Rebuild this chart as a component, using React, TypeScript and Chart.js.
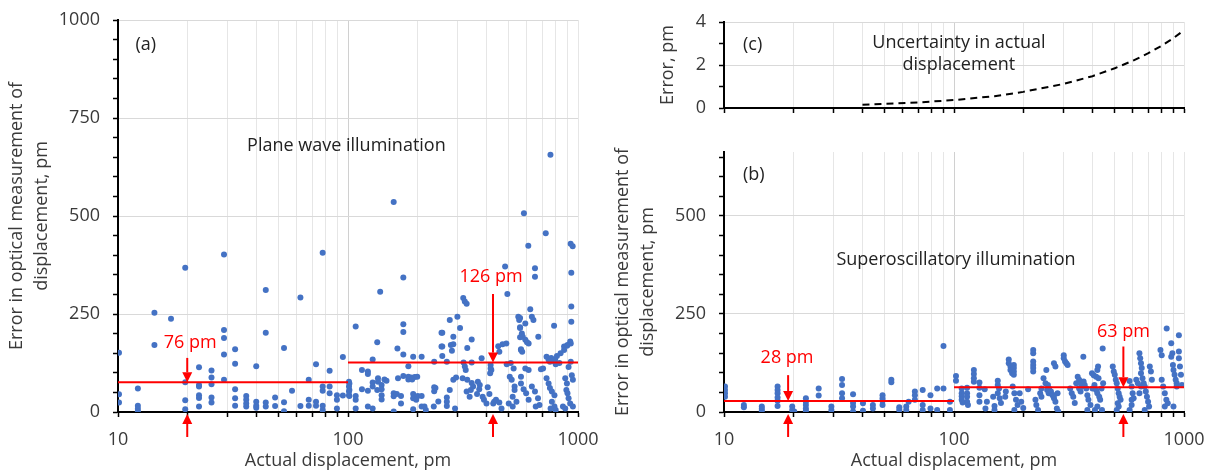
import React, { useEffect, useRef } from 'react';
import { Chart, registerables } from 'chart.js';

Chart.register(...registerables);

// ---------------- data ----------------
const xTickValues = [10, 20, 30, 40, 50, 60, 70, 80, 90, 100, 200, 300, 400, 500, 600, 700, 800, 900, 1000];
const xTickLabels = [10, 100, 1000];

const planeYTickValues = [0, 50, 100, 150, 200, 250, 300, 350, 400, 450, 500, 550, 600, 650, 700, 750, 800, 850, 900, 950, 1000];
const planeYTickLabels = [0, 250, 500, 750, 1000];
const superYTickValues = [0, 50, 100, 150, 200, 250, 300, 350, 400, 450, 500, 550, 600, 650];
const superYTickLabels = [0, 250, 500];
const uncertYTickValues = [0, 1, 2, 3, 4];
const uncertYTickLabels = [0, 2, 4];

// [actual displacement pm, error pm]
const planeWavePoints: [number, number][] = [
  [10.1,151],[10.1,45],[10.1,24],[12.2,60],[12.2,16],[12.2,8],[12.2,1],[14.4,253],[14.4,171],[17.0,238],[19.6,368],[19.6,76],[19.6,30],[19.6,7],
  [22.5,114],[22.5,69],[22.5,65],[22.5,43],[22.5,36],[22.5,14],[25.5,106],[25.5,88],[25.5,71],[25.5,37],[25.5,24],[28.9,402],[28.9,209],[28.9,189],
  [28.9,147],[28.9,82],[32.3,160],[32.3,123],[32.3,58],[32.3,35],[32.3,16],[36.1,41],[36.1,31],[36.1,22],[36.1,14],[39.9,117],[39.9,26],[39.9,16],
  [39.9,11],[43.9,311],[43.9,202],[43.9,24],[43.9,14],[48.2,37],[48.2,15],[52.7,163],[52.7,25],[52.7,2],[57.1,54],[62.1,292],[62.1,15],[67.5,82],
  [67.5,31],[67.5,16],[72.6,122],[72.6,26],[72.6,16],[77.6,406],[77.6,65],[77.6,54],[77.6,16],[77.6,5],[83.2,105],[83.2,65],[83.2,48],[89.5,43],
  [89.5,31],[89.5,9],[95,140],[95,42],[101.4,73],[101.4,56],[101.4,41],
  [108,218],[158,536],[582,507],[724,456],[759,656],[929,429],[948,423],[138,307],[174,343],[174,224],[174,204],[608,424],[650,367],[650,345],
  [482,371],[493,301],[317,291],[322,282],[328,276],[277,235],[299,243],[307,214],[255,202],[255,167],[287,192],[560,240],[560,214],[560,191],
  [620,262],[630,243],[640,235],[672,192],[787,220],[935,269],[935,230],[935,355],[870,167],[900,171],[930,175],[134,178],[128,134],[164,162],
  [174,147],[192,141],[209,141],[237,128],[257,143],[269,128],[257,202],[257,167],[287,173],[280,171],[283,156],[183,117],[115,107],[122,103],
  [122,97],[135,86],[135,77],[144,83],[147,80],[128,75],[128,65],[134,56],[140,69],[140,58],[140,43],[140,32],[165,86],[174,92],[183,90],[188,88],
  [195,89],[200,90],[183,83],[190,83],[115,58],[122,54],[101,77],[101,65],[101,52],[101,43],[108,41],[108,31],[108,9],[122,14],[128,9],[158,48],
  [158,40],[163,46],[170,41],[170,22],[158,1],[192,46],[192,35],[201,41],[209,41],[198,31],[192,7],[209,14],[215,14],[218,5],[237,63],[240,61],
  [237,53],[247,27],[236,14],[269,37],[269,26],[269,15],[277,56],[287,82],[295,88],[292,9],
  [550,243],[555,235],[590,226],[560,216],[570,200],[575,192],[590,184],[600,178],[610,175],[565,160],[925,180],[895,169],[870,158],[840,150],
  [810,143],[795,134],[780,130],[345,185],[330,163],[381,137],[345,126],[318,126],[470,173],[488,175],[450,168],[455,154],[417,120],[417,111],
  [420,107],[415,99],[565,158],[572,154],[730,141],[745,133],[755,128],[765,138],[325,107],[322,116],[490,122],[510,125],[525,111],[590,111],
  [610,107],[690,109],[705,111],[800,122],[830,125],[910,115],[930,128],[315,86],[330,82],[345,74],[350,65],[342,56],[328,52],[338,39],[367,77],
  [374,69],[372,58],[364,46],[385,39],[390,31],[400,22],[405,63],[412,46],[428,22],[432,26],[440,31],[455,24],[465,9],[505,90],[515,82],[530,65],
  [530,56],[520,39],[500,22],[520,14],[540,26],[565,90],[565,73],[580,58],[595,48],[610,31],[630,65],[650,52],[670,35],[680,18],[655,14],[730,86],
  [745,73],[755,61],[770,52],[790,43],[770,26],[790,14],[800,5],[760,9],[880,86],[895,73],[890,56],[900,48],[910,35],[925,22],[940,94],[950,82],
  [860,14],[880,9],[950,14],
];

const superOscPoints: [number, number][] = [
  [10.1,65],[10.1,56],[10.1,48],[10.1,39],[12.2,18],[12.2,12],[14.6,14],[14.6,8],[14.6,3],[17.1,65],[17.1,56],[17.1,48],[17.1,37],[17.1,29],[17.1,15],
  [19.8,14],[19.8,5],[20.2,1],[22.7,35],[22.7,26],[22.7,18],[22.7,9],[22.7,3],[25.8,60],[25.8,42],[29.3,14],[29.3,5],[32.6,84],[32.6,69],[32.6,48],
  [32.6,35],[36.4,45],[36.4,23],[36.4,14],[36.4,1],[40.2,22],[40.2,3],[44.4,18],[44.4,9],[48.9,43],[48.9,35],[48.9,29],[48.9,18],[53.4,82],[53.4,76],
  [57.8,12],[57.8,5],[63.5,26],[62,14],[62,5],[67.6,52],[67.6,43],[67.6,31],[73.1,56],[73.1,18],[73.1,5],[79,43],[79,9],[84.5,60],[84.5,5],[90,168],
  [90,60],[96,26],[96,5],
  [102,92],[102,80],[108,60],[108,48],[108,40],[108,31],[109,24],[114,62],[114,48],[114,39],[114,26],[115,18],[122,107],[122,97],[122,86],[122,77],
  [129,75],[129,62],[129,43],[129,26],[136,58],[137,9],[139,26],[148,39],[150,15],[155,80],[155,69],[157,60],[155,48],[158,35],[160,23],[150,5],
  [167,39],[168,52],[173,134],[173,124],[176,116],[176,107],[179,99],[182,120],[182,112],[182,103],[182,95],[180,65],[183,48],[186,31],[189,18],
  [183,5],[193,48],[196,26],[200,10],[210,58],[221,158],[221,150],[221,129],[221,120],[221,112],[221,103],[226,31],[228,18],[232,5],[237,48],
  [240,60],[240,39],[245,86],[250,73],[254,56],[258,48],[252,107],[256,69],[259,60],[264,52],[268,43],[272,35],[272,124],[276,116],[282,48],
  [300,145],[300,137],[304,129],[308,124],[312,120],[272,43],[276,26],[280,9],[284,1],[320,60],[325,48],[330,39],[335,23],[340,73],[350,60],
  [355,52],[360,65],[366,78],[370,69],[376,60],[365,141],[345,90],[350,82],[355,73],[380,43],[384,31],[392,18],[380,5],[398,99],[405,94],[415,90],
  [425,86],[420,107],[423,116],[443,162],[400,60],[408,69],[415,56],[420,48],[428,39],[432,31],[438,60],[445,73],[410,5],[420,14],[440,5],
  [490,116],[495,103],[500,95],[505,82],[510,73],[515,60],[520,48],[525,39],[530,31],[515,22],[520,14],[510,5],[580,79],[592,65],[598,48],[604,35],
  [592,31],[592,18],[580,5],[640,150],[645,137],[650,124],[655,112],[650,99],[660,86],[668,73],[675,65],[682,52],[690,39],[698,26],[705,14],[675,5],
  [710,116],[718,103],[725,82],[800,82],[812,65],[825,48],[838,31],[850,22],[825,14],[900,14],[841,213],[880,175],[890,150],[880,141],[895,120],
  [900,107],[910,95],[920,82],[930,73],[930,65],[950,196],[950,154],[950,137],[960,116],[970,95],[980,69],[790,158],[800,145],[650,65],[640,48],
  [620,82],[630,73],
];

const uncertX = [40, 50, 70, 100, 150, 200, 300, 400, 500, 600, 700, 800, 900, 1000];
const uncertY = [0.15, 0.19, 0.26, 0.37, 0.55, 0.75, 1.12, 1.48, 1.85, 2.2, 2.55, 2.9, 3.25, 3.62];

const meanBreaks = [10, 100, 1000];
const planeMeans = [76, 126];
const superMeans = [28, 63];

const planeArrowX = [20, 427];
const planeArrowTop = [138, 301];
const planeLabelX = [20.6, 419];
const planeLabelY = [176, 344];
const superArrowX = [19, 545];
const superArrowTop = [94, 167];
const superLabelX = [18.8, 545];
const superLabelY = [138, 204];

// ---------------- style ----------------
const FONT = '"Open Sans", Lato, sans-serif';
const FS = 18;
const TEXT = '#3A3A3A';
const DARK = '#222222';
const BLUE = '#4472C4';
const RED = '#FF0000';

type Note = { x: number; y: number; text: string | string[]; color: string; align?: CanvasTextAlign };
type Arrow = { x: number; from?: number; to?: number; below?: boolean };

function drawArrow(ctx: CanvasRenderingContext2D, x: number, yTail: number, yTip: number) {
  const dir = yTip > yTail ? 1 : -1;
  const head = 10;
  const half = 5;
  ctx.strokeStyle = RED;
  ctx.fillStyle = RED;
  ctx.lineWidth = 2;
  ctx.beginPath();
  ctx.moveTo(x, yTail);
  ctx.lineTo(x, yTip - dir * head);
  ctx.stroke();
  ctx.beginPath();
  ctx.moveTo(x - half, yTip - dir * head);
  ctx.lineTo(x + half, yTip - dir * head);
  ctx.lineTo(x, yTip);
  ctx.closePath();
  ctx.fill();
}

function makeNotes(notes: Note[], arrows: Arrow[]) {
  return {
    id: 'notes',
    afterDatasetsDraw(chart: any) {
      const { ctx, chartArea } = chart;
      const xs = chart.scales.x;
      const ys = chart.scales.y;
      ctx.save();
      for (const n of notes) {
        ctx.font = `${FS}px ${FONT}`;
        ctx.fillStyle = n.color;
        ctx.textAlign = n.align || 'center';
        ctx.textBaseline = 'middle';
        const px = xs.getPixelForValue(n.x);
        const py = ys.getPixelForValue(n.y);
        const lines = Array.isArray(n.text) ? n.text : [n.text];
        lines.forEach((ln, i) => ctx.fillText(ln, px, py + i * 22));
      }
      for (const a of arrows) {
        const px = xs.getPixelForValue(a.x);
        if (a.below) {
          drawArrow(ctx, px, chartArea.bottom + 25, chartArea.bottom + 2);
        } else {
          drawArrow(ctx, px, ys.getPixelForValue(a.from), ys.getPixelForValue(a.to));
        }
      }
      ctx.restore();
    },
  };
}

function xScale(height: number, showLabels: boolean, withTitle: boolean) {
  return {
    type: 'logarithmic',
    min: 10,
    max: 1000,
    afterBuildTicks: (s: any) => {
      s.ticks = xTickValues.map((v) => ({ value: v }));
    },
    afterFit: (s: any) => {
      s.height = height;
      s.paddingLeft = 0;
      s.paddingRight = 0;
    },
    ticks: {
      display: showLabels,
      autoSkip: false,
      maxRotation: 0,
      minRotation: 0,
      padding: 12,
      color: TEXT,
      font: { family: FONT, size: FS },
      callback: (v: number) => (xTickLabels.includes(v) ? String(v) : ''),
    },
    grid: {
      color: (c: any) => (c.tick && c.tick.value === 100 ? '#D0D0D0' : '#E6E6E6'),
      lineWidth: 1,
      tickColor: '#000',
      tickLength: 5,
      tickWidth: 1.5,
    },
    border: { color: '#000', width: 2 },
    title: {
      display: withTitle,
      text: 'Actual displacement, pm',
      color: TEXT,
      font: { family: FONT, size: FS },
      padding: { top: 0, bottom: 1 },
    },
  };
}

function yScale(max: number, tickValues: number[], labels: number[], width: number, title: string | string[], titlePad: number) {
  return {
    type: 'linear',
    min: 0,
    max,
    afterBuildTicks: (s: any) => {
      s.ticks = tickValues.map((v) => ({ value: v }));
    },
    afterFit: (s: any) => {
      s.width = width;
      s.paddingTop = 0;
      s.paddingBottom = 0;
    },
    ticks: {
      autoSkip: false,
      padding: 13,
      color: TEXT,
      font: { family: FONT, size: FS },
      callback: (v: number) => (labels.includes(v) ? String(v) : ''),
    },
    grid: {
      color: (c: any) => (c.tick && c.tick.value !== 0 && labels.includes(c.tick.value) ? '#D9D9D9' : 'rgba(0,0,0,0)'),
      lineWidth: 1,
      tickColor: '#000',
      tickLength: 5,
      tickWidth: 1.5,
    },
    border: { color: '#000', width: 2 },
    title: {
      display: true,
      text: title,
      color: TEXT,
      font: { family: FONT, size: FS, lineHeight: 1.39 },
      padding: { top: titlePad, bottom: 0 },
    },
  };
}

function meanLines(means: number[]) {
  return means.map((m, i) => ({
    type: 'line',
    data: [
      { x: meanBreaks[i], y: m },
      { x: meanBreaks[i + 1], y: m },
    ],
    borderColor: RED,
    borderWidth: 2,
    pointRadius: 0,
    showLine: true,
    fill: false,
  }));
}

function scatterSet(points: [number, number][]) {
  return {
    type: 'scatter',
    data: points.map(([x, y]) => ({ x, y })),
    backgroundColor: BLUE,
    borderColor: BLUE,
    borderWidth: 0,
    pointRadius: 3,
  };
}

const baseOptions = {
  responsive: false,
  animation: false,
  events: [],
  plugins: { legend: { display: false }, tooltip: { enabled: false } },
};

function configA() {
  const notes: Note[] = [
    { x: 11.9, y: 936, text: '(a)', color: DARK, align: 'left' },
    { x: 98.4, y: 679, text: 'Plane wave illumination', color: DARK },
    ...planeMeans.map((m, i) => ({ x: planeLabelX[i], y: planeLabelY[i], text: `${m} pm`, color: RED })),
  ];
  const arrows: Arrow[] = [
    ...planeArrowX.map((x, i) => ({ x, from: planeArrowTop[i], to: planeMeans[i] })),
    ...planeArrowX.map((x) => ({ x, below: true })),
  ];
  return {
    type: 'scatter',
    data: { datasets: [...meanLines(planeMeans), scatterSet(planeWavePoints)] },
    options: {
      ...baseOptions,
      layout: { padding: { left: 0, right: 22, top: 20, bottom: 0 } },
      scales: {
        x: xScale(61, true, true),
        y: yScale(1000, planeYTickValues, planeYTickLabels, 118, ['Error in optical measurement of', 'displacement, pm'], 4.5),
      },
    },
    plugins: [makeNotes(notes, arrows)],
  };
}

function configB() {
  const notes: Note[] = [
    { x: 12.1, y: 605, text: '(b)', color: DARK, align: 'left' },
    { x: 102, y: 388, text: 'Superoscillatory illumination', color: DARK },
    ...superMeans.map((m, i) => ({ x: superLabelX[i], y: superLabelY[i], text: `${m} pm`, color: RED })),
  ];
  const arrows: Arrow[] = [
    ...superArrowX.map((x, i) => ({ x, from: superArrowTop[i], to: superMeans[i] })),
    ...superArrowX.map((x) => ({ x, below: true })),
  ];
  return {
    type: 'scatter',
    data: { datasets: [...meanLines(superMeans), scatterSet(superOscPoints)] },
    options: {
      ...baseOptions,
      layout: { padding: { left: 0, right: 22, top: 22, bottom: 0 } },
      scales: {
        x: xScale(61, true, true),
        y: yScale(663, superYTickValues, superYTickLabels, 124, ['Error in optical measurement of', 'displacement, pm'], 10.5),
      },
    },
    plugins: [makeNotes(notes, arrows)],
  };
}

function configC() {
  const notes: Note[] = [
    { x: 12.1, y: 2.93, text: '(c)', color: DARK, align: 'left' },
    { x: 105, y: 3.02, text: ['Uncertainty in actual', 'displacement'], color: DARK },
  ];
  return {
    type: 'scatter',
    data: {
      datasets: [
        {
          type: 'line',
          data: uncertX.map((x, i) => ({ x, y: uncertY[i] })),
          borderColor: '#000',
          borderWidth: 2,
          borderDash: [7, 5],
          pointRadius: 0,
          showLine: true,
          fill: false,
          tension: 0,
        },
      ],
    },
    options: {
      ...baseOptions,
      layout: { padding: { left: 0, right: 22, top: 22, bottom: 0 } },
      scales: {
        x: xScale(22, false, false),
        y: yScale(4, uncertYTickValues, uncertYTickLabels, 124, 'Error, pm', 55.5),
      },
    },
    plugins: [makeNotes(notes, [])],
  };
}

function ChartCanvas({ make, left, top, width, height }: { make: () => any; left: number; top: number; width: number; height: number }) {
  const ref = useRef<HTMLCanvasElement | null>(null);
  useEffect(() => {
    if (!ref.current) return;
    const chart = new Chart(ref.current, make());
    return () => chart.destroy();
  }, []);
  return (
    <canvas
      ref={ref}
      width={width}
      height={height}
      style={{ position: 'absolute', left, top, width, height, display: 'block' }}
    />
  );
}

export default function App() {
  return (
    <div style={{ position: 'absolute', left: 0, top: 0, width: 1206, height: 473, background: '#fff', overflow: 'hidden' }}>
      <ChartCanvas make={configA} left={0} top={0} width={600} height={473} />
      <ChartCanvas make={configC} left={600} top={0} width={606} height={130} />
      <ChartCanvas make={configB} left={600} top={130} width={606} height={343} />
    </div>
  );
}
